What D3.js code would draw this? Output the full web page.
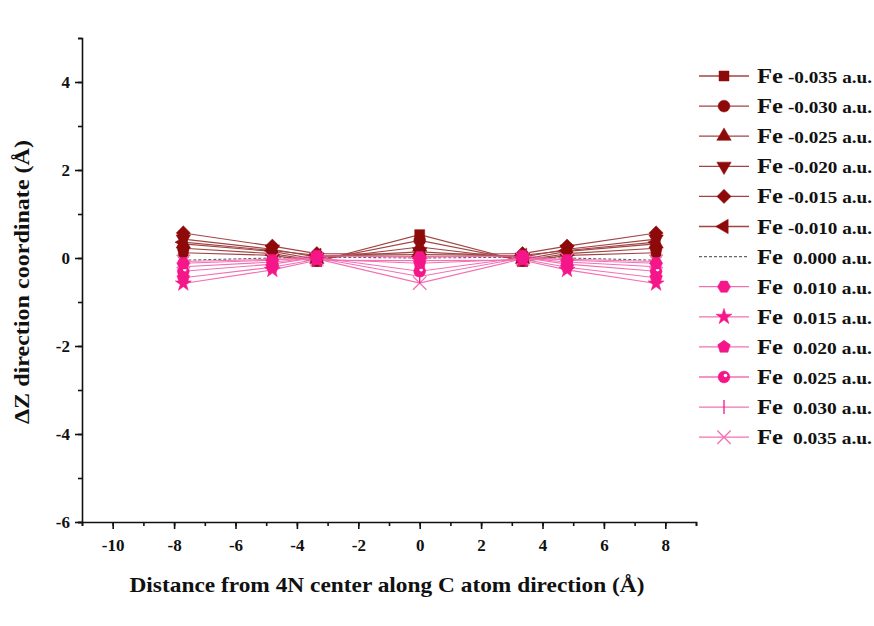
<!DOCTYPE html>
<html>
<head>
<meta charset="utf-8">
<script src="https://cdn.jsdelivr.net/npm/d3@7"></script>
<style>
  body { margin: 0; background: #fff; }
  svg { display: block; font-family: "Liberation Serif", "Times New Roman", serif; font-weight: bold; }
</style>
</head>
<body>
<svg id="chart" width="874" height="626"></svg>
<script>
// positions along C atom direction (Å)
const xPositions = [-7.7, -4.8, -3.35, 0, 3.35, 4.8, 7.7];

// charge labels and ΔZ values (Å)
const charges = ["-0.035", "-0.030", "-0.025", "-0.020", "-0.015", "-0.010", "0.000",
                 "0.010", "0.015", "0.020", "0.025", "0.030", "0.035"];
const dzM035 = [0.12, 0.06, -0.08, 0.53, -0.08, 0.06, 0.12];
const dzM030 = [0.22, 0.10, -0.06, 0.40, -0.06, 0.10, 0.22];
const dzM025 = [0.32, 0.15, -0.03, 0.25, -0.03, 0.15, 0.32];
const dzM020 = [0.43, 0.20, 0.02, 0.14, 0.02, 0.20, 0.43];
const dzM015 = [0.57, 0.27, 0.10, 0.08, 0.10, 0.27, 0.57];
const dzM010 = [0.36, 0.17, 0.06, 0.04, 0.06, 0.17, 0.36];
const dzZero = [-0.05, 0.00, 0.02, 0.00, 0.02, 0.00, -0.05];
const dzP010 = [-0.12, -0.05, 0.05, 0.02, 0.05, -0.05, -0.12];
const dzP015 = [-0.58, -0.27, -0.05, -0.06, -0.05, -0.27, -0.58];
const dzP020 = [-0.45, -0.21, -0.03, -0.12, -0.03, -0.21, -0.45];
const dzP025 = [-0.30, -0.14, 0.01, -0.30, 0.01, -0.14, -0.30];
const dzP030 = [-0.20, -0.09, 0.00, -0.42, 0.00, -0.09, -0.20];
const dzP035 = [-0.08, -0.03, -0.02, -0.57, -0.02, -0.03, -0.08];
const allSeries = [dzM035, dzM030, dzM025, dzM020, dzM015, dzM010, dzZero,
                   dzP010, dzP015, dzP020, dzP025, dzP030, dzP035];

const xTicks = [-10, -8, -6, -4, -2, 0, 2, 4, 6, 8];
const yTicks = [-6, -4, -2, 0, 2, 4];

// ---- custom marker shapes
function polygon(n, rot) {
  return {
    draw(ctx, size) {
      const r = Math.sqrt(size / (n * 0.5 * Math.sin(2 * Math.PI / n)));
      for (let i = 0; i < n; i++) {
        const a = rot + i * 2 * Math.PI / n;
        const px = r * Math.cos(a), py = r * Math.sin(a);
        if (i === 0) ctx.moveTo(px, py); else ctx.lineTo(px, py);
      }
      ctx.closePath();
    }
  };
}
const triUp = polygon(3, -Math.PI / 2);
const triDown = polygon(3, Math.PI / 2);
const triLeft = polygon(3, Math.PI);
const hexagon = polygon(6, 0);
const pentagon = polygon(5, -Math.PI / 2);
const diamond = polygon(4, -Math.PI / 2);
const square = polygon(4, Math.PI / 4);
const vbar = { draw(ctx, size) { const h = Math.sqrt(size) * 0.7; ctx.moveTo(0, -h); ctx.lineTo(0, h); } };

const darkRed = "#8e0a0a", darkLine = "#a24444";
const pink = "#f5168a", pinkLine = "#f370b4";

const styles = [
  { sym: square, size: 100, fill: darkRed, line: darkLine },
  { sym: d3.symbolCircle, size: 110, fill: darkRed, line: darkLine },
  { sym: triUp, size: 90, fill: darkRed, line: darkLine },
  { sym: triDown, size: 90, fill: darkRed, line: darkLine },
  { sym: diamond, size: 100, fill: darkRed, line: darkLine },
  { sym: triLeft, size: 90, fill: darkRed, line: darkLine },
  { sym: null, size: 0, fill: "none", line: "#666", dash: "3,2" },
  { sym: hexagon, size: 110, fill: pink, line: pinkLine },
  { sym: d3.symbolStar, size: 80, fill: pink, line: pinkLine },
  { sym: pentagon, size: 105, fill: pink, line: pinkLine },
  { sym: d3.symbolCircle, size: 110, fill: pink, line: pinkLine, dot: true },
  { sym: vbar, size: 100, fill: "none", line: pinkLine, stroke: pink },
  { sym: d3.symbolTimes, size: 120, fill: "none", line: pinkLine, stroke: pinkLine }
];

const svg = d3.select("#chart");
const margin = { left: 82, right: 178, top: 38, bottom: 104 };
const W = 874, H = 626;

const x = d3.scaleLinear().domain([-11, 9]).range([margin.left, W - margin.right]);
const y = d3.scaleLinear().domain([-6, 5]).range([H - margin.bottom, margin.top]);

// axes with outward major and minor ticks
const xAxis = svg.append("g").attr("transform", `translate(0,${y(-6)})`);
xAxis.call(d3.axisBottom(x).tickValues(d3.range(-11, 10, 1)).tickSize(4).tickFormat(""));
xAxis.append("g").call(d3.axisBottom(x).tickValues(xTicks).tickSize(7).tickPadding(10).tickFormat(d => String(d)));
const yAxis = svg.append("g").attr("transform", `translate(${x(-11)},0)`);
yAxis.call(d3.axisLeft(y).tickValues(d3.range(-6, 6, 1)).tickSize(4).tickFormat(""));
yAxis.append("g").call(d3.axisLeft(y).tickValues(yTicks).tickSize(7).tickPadding(5).tickFormat(d => String(d)));
svg.selectAll(".domain").attr("stroke", "#111").attr("stroke-width", 1.6);
svg.selectAll(".tick line").attr("stroke", "#111").attr("stroke-width", 1.6);
svg.selectAll(".tick text").attr("font-family", "Liberation Serif, serif").attr("font-weight", "bold")
   .attr("font-size", 17).attr("fill", "#111");
xAxis.selectAll("g g .domain").remove();
yAxis.selectAll("g g .domain").remove();

// axis titles
svg.append("text").attr("x", 387).attr("y", 592).attr("text-anchor", "middle")
  .attr("font-size", 22).attr("fill", "#111")
  .attr("textLength", 515).attr("lengthAdjust", "spacingAndGlyphs")
  .text("Distance from 4N center along C atom direction (Å)");
svg.append("text").attr("transform", `translate(29,${(y(-6) + y(5)) / 2 + 2}) rotate(-90)`)
  .attr("text-anchor", "middle").attr("font-size", 22).attr("fill", "#111")
  .attr("textLength", 284).attr("lengthAdjust", "spacingAndGlyphs")
  .text("ΔZ direction coordinate (Å)");

// series
const line = d3.line().x((d, i) => x(xPositions[i])).y(d => y(d));
const plot = svg.append("g");
const order = [6, 0, 1, 2, 3, 4, 5, 12, 11, 10, 9, 8, 7];
order.forEach(k => {
  const st = styles[k];
  plot.append("path").datum(allSeries[k]).attr("d", line).attr("fill", "none")
    .attr("stroke", st.line).attr("stroke-width", 1.1).attr("stroke-dasharray", st.dash || null);
});
function drawMarker(g, st, cx, cy) {
  if (!st.sym) return;
  g.append("path").attr("d", d3.symbol(st.sym, st.size)())
    .attr("transform", `translate(${cx},${cy})`)
    .attr("fill", st.fill).attr("stroke", st.stroke || st.fill).attr("stroke-width", st.stroke ? 1.3 : 0.5);
  if (st.dot) {
    g.append("circle").attr("cx", cx + 1.5).attr("cy", cy - 1.5).attr("r", 1.8).attr("fill", "#fff");
  }
}
order.forEach(k => {
  allSeries[k].forEach((v, i) => drawMarker(plot, styles[k], x(xPositions[i]), y(v)));
});

// legend
const legend = svg.append("g");
charges.forEach((c, k) => {
  const ly = 76 + k * 30.1;
  const st = styles[k];
  const neg = c.startsWith("-");
  legend.append("line").attr("x1", 699).attr("x2", 749).attr("y1", ly).attr("y2", ly)
    .attr("stroke", st.line).attr("stroke-width", 1.3).attr("stroke-dasharray", st.dash || null);
  drawMarker(legend, st, 724, ly);
  legend.append("text").attr("x", 757).attr("y", ly + 7).attr("fill", "#111")
    .attr("font-size", 22).attr("textLength", 26).attr("lengthAdjust", "spacingAndGlyphs").text("Fe");
  legend.append("text").attr("x", neg ? 788 : 793).attr("y", ly + 7).attr("fill", "#111")
    .attr("font-size", 17).attr("textLength", neg ? 84 : 79).attr("lengthAdjust", "spacingAndGlyphs")
    .text(c + " a.u.");
});
</script>
</body>
</html>
